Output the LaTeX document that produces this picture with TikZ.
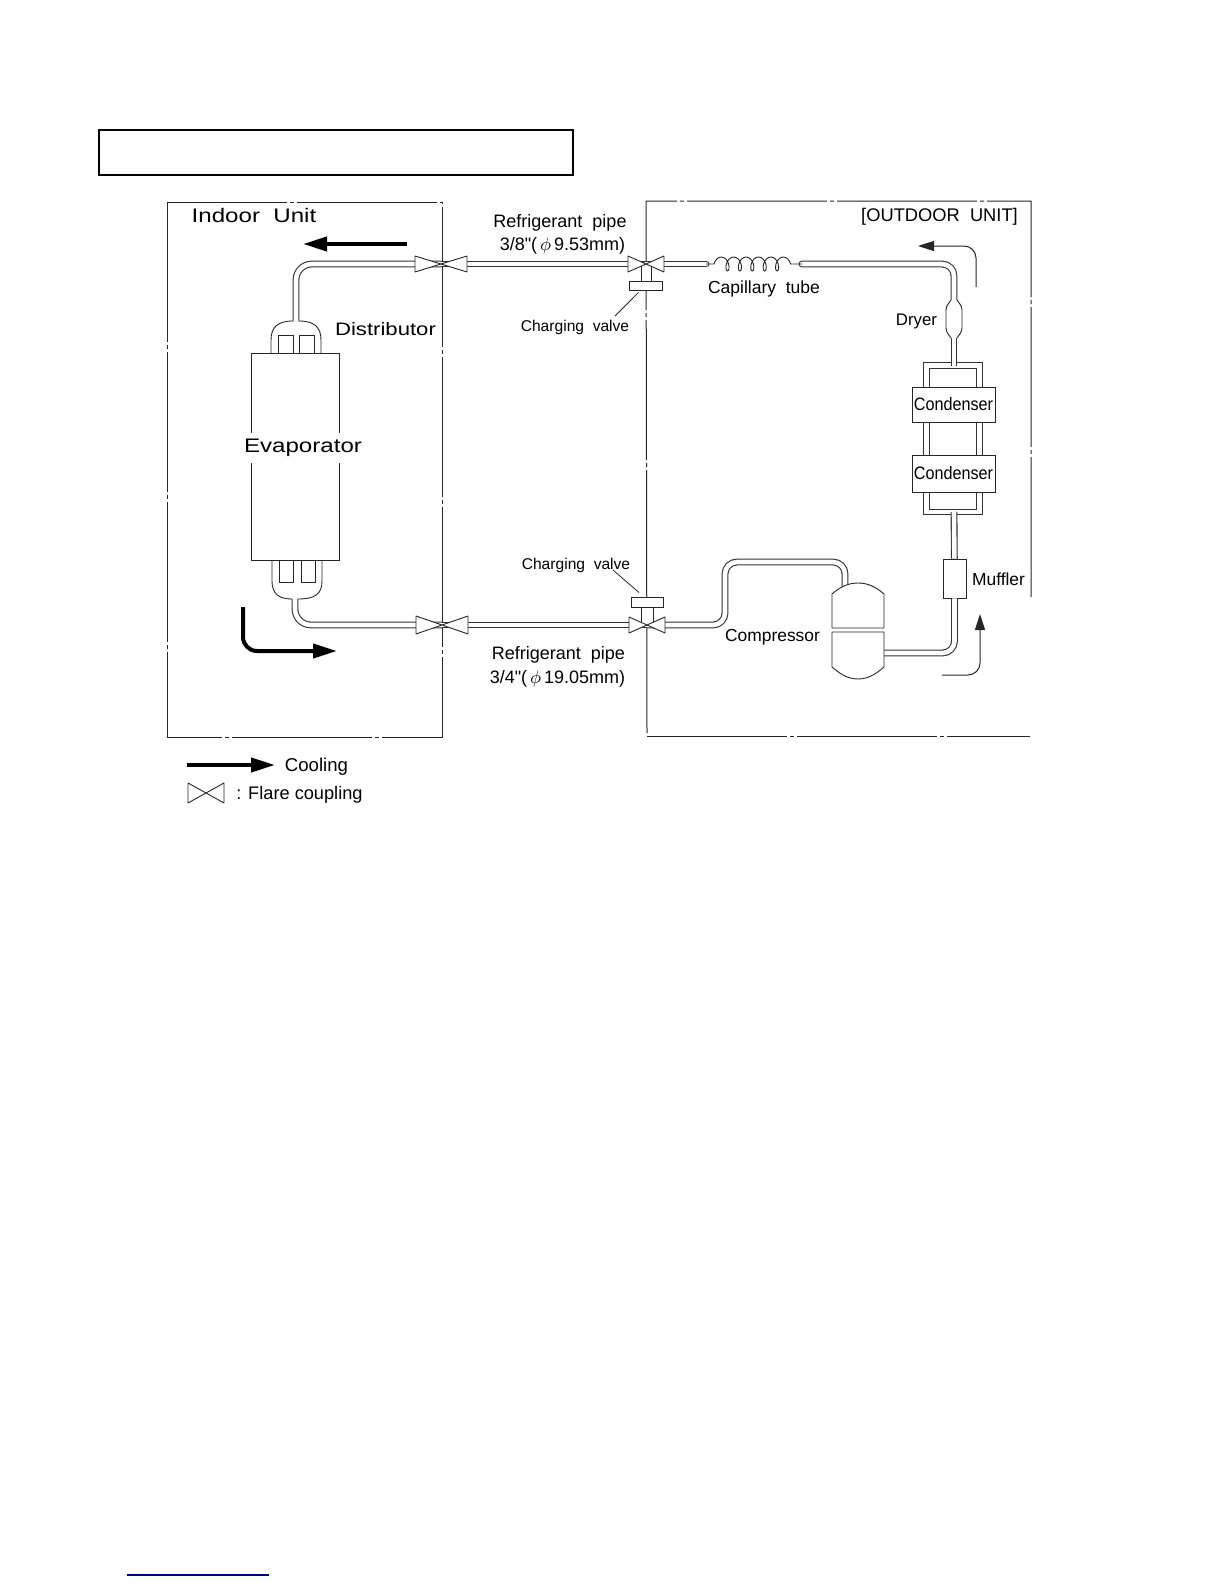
\documentclass[tikz,border=0pt]{standalone}
\usepackage{fontspec}
\setmainfont{Liberation Sans}
\newfontfamily\widefont[FakeStretch=1.23]{Liberation Sans}
\newfontfamily\slimfont[FakeStretch=0.9]{Liberation Sans}
\newfontfamily\rawfont[Ligatures=ResetAll]{Liberation Sans}
\usepackage{xcolor}
\usepackage{tikz}
\usetikzlibrary{arrows.meta,positioning,calc,decorations.pathmorphing}

\begin{document}
\begin{tikzpicture}[
  x=0.5pt, y=-0.5pt,
  every node/.style={inner sep=0pt},
  ann/.style={font=\fontsize{9}{10}\selectfont},
  small/.style={font=\fontsize{7.8}{9}\selectfont},
  wide/.style={font=\fontsize{9.8}{11}\widefont},
  tube/.style={black!85, line width=0.45pt},
  pipe/.style={black!80, line width=0.55pt, double=white, double distance=2.3pt, rounded corners=6pt},
  unitbox/.style={black!85, line width=0.5pt, dash pattern=on 70pt off 1.5pt on 2pt off 1.5pt},
  flare/.style={tube, fill=white, line join=bevel},
  part/.style={draw=black!85, line width=0.4pt, fill=white},
  bigarr/.style={-{Triangle[length=12pt,width=7pt]}, line width=2pt, rounded corners=7pt},
  thinarr/.style={-{Triangle[length=8pt,width=5pt]}, line width=0.5pt, black!85, rounded corners=6pt},
]

\useasboundingbox (0,0) rectangle (1224,1584);

%% ── title frame and page rule ────────────────────────────────────────────
\draw[line width=0.55pt] (99,130) rectangle (573,175);
\draw[line width=1.2pt] (98.5,130) -- (573.5,130);
\draw[line width=0.7pt, blue!55!black] (127,1575) -- (269,1575);

%% ── unit boundaries ──────────────────────────────────────────────────────
\draw[unitbox] (167,202) rectangle (442,737);
\draw[unitbox] (1031,597) -- (1031,201) -- (646,201) -- (647,733);
\draw[unitbox] (647,736) -- (1030,736);

%% ── fixed points of the circuit ──────────────────────────────────────────
\foreach \nm/\px/\py in {fcTop/441/264, fcBot/442/625, valTop/646/264, valBot/647/625, fcKey/206/793} {
  \coordinate (\nm) at (\px,\py);
}
\coordinate (distTop) at (296,321);
\coordinate (distBot) at (295,599);
\coordinate (capIn) at (706,264);
\coordinate (capOut) at (802,264);
\coordinate (compIn) at (845,590);
\coordinate (compOut) at (880,653);
\coordinate (condTop) at (954,365.5);
\coordinate (condBot) at (954,512);
\node[part, minimum width=11.5pt, minimum height=19.5pt] (muffler) at (954.5,578.5) {};
\coordinate (dryer) at (954,319);

%% ── pipes ────────────────────────────────────────────────────────────────
\draw[pipe, rounded corners=8pt] (distTop) |- (fcTop);
\draw[pipe, rounded corners=8pt] (distBot) |- (fcBot);
\draw[pipe] (fcTop) -- (valTop);
\draw[pipe] (fcBot) -- (valBot);
\draw[pipe, line cap=round] (valTop) -- (capIn);
\draw[pipe, line cap=round] (capOut) -| (dryer);
\draw[pipe, sharp corners] (926.5,365.5) rectangle (979.5,512);
\draw[pipe] (dryer) -- (condTop);
\draw[pipe] (condBot) -- (muffler);
\draw[pipe] (valBot) -| (725,562) -| (compIn);
\draw[pipe] (compOut) -| (muffler);

%% capillary coil
\draw[tube, decorate, decoration={coil, aspect=0.6, segment length=6.2pt, amplitude=3.5pt, pre length=4pt, post length=4pt}] (capIn) -- (capOut);

%% dryer
\fill[white] (951,300) -- (946,307) -- (946,331) -- (951,338) -- (957,338) -- (962,331) -- (962,307) -- (957,300) -- cycle;
\draw[tube, rounded corners=1.5pt] (951,300) -- (946,307) -- (946,331) -- (951,338);
\draw[tube, rounded corners=1.5pt] (957,300) -- (962,307) -- (962,331) -- (957,338);

%% ── charging valves ──────────────────────────────────────────────────────
\draw[flare] (641,264) rectangle (651,281);
\draw[flare] (641,607) rectangle (653,625);
\node[part, minimum width=16.5pt, minimum height=4.5pt] (bonTop) at (645.5,285.5) {};
\node[part, minimum width=16pt, minimum height=5pt] (bonBot) at (647,602) {};

%% ── couplings ────────────────────────────────────────────────────────────
\foreach \nm/\hw/\hh in {fcTop/26/8, fcBot/26/9, valTop/18/8, valBot/18/8, fcKey/18/10} {
  \draw[flare] (\nm) -- ++(-\hw,-\hh) -- ++(0,2*\hh) -- cycle;
  \draw[flare] (\nm) -- ++(\hw,-\hh) -- ++(0,2*\hh) -- cycle;
}

%% ── evaporator and distributors ──────────────────────────────────────────
\node[draw=black!85, line width=0.45pt, minimum width=44pt, minimum height=103.5pt] (evap) at (295,456.5) {};
\node[wide, fill=white, inner sep=3pt] (evapLabel) at (303,448) {Evaporator};
\draw[tube] (293,321) .. controls (278,321) and (271,327) .. (271,340) -- (271,353);
\draw[tube] (299,321) .. controls (314,321) and (321,327) .. (321,340) -- (321,353);
\draw[tube] (278,353) |- (293,335) -- (293,353);
\draw[tube] (299,353) |- (314,335) -- (314,353);
\draw[tube] (292,599) .. controls (279,599) and (272,594) .. (272,581) -- (272,560);
\draw[tube] (298,599) .. controls (315,599) and (322,594) .. (322,581) -- (322,560);
\draw[tube] (279,560) |- (293,582) -- (293,560);
\draw[tube] (301,560) |- (315,582) -- (315,560);

%% ── condensers ───────────────────────────────────────────────────────────
\node[part, minimum width=41.5pt, minimum height=17.5pt, ann, font=\fontsize{9}{10}\slimfont] (cond1) at (953.5,404.5) {\raisebox{-0.5pt}{Condenser}};
\node[part, minimum width=41.5pt, minimum height=18.5pt, ann, font=\fontsize{9}{10}\slimfont] (cond2) at (953.5,473.5) {\raisebox{-0.5pt}{Condenser}};

%% ── compressor ───────────────────────────────────────────────────────────
\draw[flare] (832,628) -- (832,594) .. controls (840,587) and (848,583) .. (858,583) .. controls (868,583) and (876,587) .. (884,594) -- (884,628) -- cycle;
\draw[flare] (832,632) -- (832,667) .. controls (840,674) and (848,679) .. (858,679) .. controls (868,679) and (876,674) .. (884,667) -- (884,632) -- cycle;

%% ── flow arrows ──────────────────────────────────────────────────────────
\coordinate (flowA) at (407,244);
\coordinate (flowB) at (303,244);
\draw[bigarr] (flowA) -- (flowB);
\coordinate (flowC) at (243,607);
\coordinate (flowD) at (337,651);
\draw[bigarr] (flowC) |- (flowD);
\coordinate (flowE) at (976,287);
\coordinate (flowF) at (918,246);
\draw[thinarr] (flowE) |- (flowF);
\coordinate (flowG) at (942,675);
\coordinate (flowH) at (980,614);
\draw[thinarr] (flowG) -| (flowH);
\coordinate (keyA) at (187,765);
\coordinate (keyB) at (275,765);
\draw[bigarr] (keyA) -- (keyB);

%% ── labels ───────────────────────────────────────────────────────────────
\node[wide] (indoorLabel) at (254,215) {Indoor\ \ Unit};
\node[ann, font=\fontsize{9}{10}\widefont] (distLabel) at (385.5,329) {Distributor};
\node[ann] (pipeTopA) at (560,223) {Refrigerant\ \ pipe};
\node[ann] (pipeTopB) at (562.5,246) {\rawfont 3/8"(\,$\phi$\,9.53mm)};
\node[small] (chargeTop) at (575,327) {Charging\ \ valve};
\node[small] (chargeBot) at (576,565) {Charging\ \ valve};
\node[ann] (pipeBotA) at (558.5,655) {Refrigerant\ \ pipe};
\node[ann] (pipeBotB) at (557.5,679) {\rawfont 3/4"(\,$\phi$\,19.05mm)};
\node[ann, font=\fontsize{8.75}{10}\selectfont] (capLabel) at (764,289) {Capillary\ \ tube};
\node[ann, font=\fontsize{9.15}{10}\selectfont] (outdoorLabel) at (939.5,217) {[OUTDOOR\ \ UNIT]};
\node[ann, font=\fontsize{8.4}{10}\selectfont] (dryerLabel) at (916.5,321) {Dryer};
\node[ann, font=\fontsize{8.7}{10}\selectfont] (mufflerLabel) at (998.5,579) {Muffler};
\node[ann, font=\fontsize{8.7}{10}\selectfont] (compLabel) at (772.5,637) {Compressor};
\node[ann, font=\fontsize{9.3}{10}\selectfont] (coolLabel) at (316.5,767) {Cooling};
\node[ann, font=\fontsize{9.1}{10}\selectfont] (flareLabel) at (299.5,795) {: Flare coupling};

%% leaders of the charging valves
\coordinate (leadTop) at (615,316);
\coordinate (leadBot) at (613,570);
\draw[tube, line width=0.4pt] ($(bonTop.south)+(-7,2)$) -- (leadTop);
\draw[tube, line width=0.4pt] (leadBot) -- ($(bonBot.north)+(-8,-4)$);

\end{tikzpicture}
\end{document}
